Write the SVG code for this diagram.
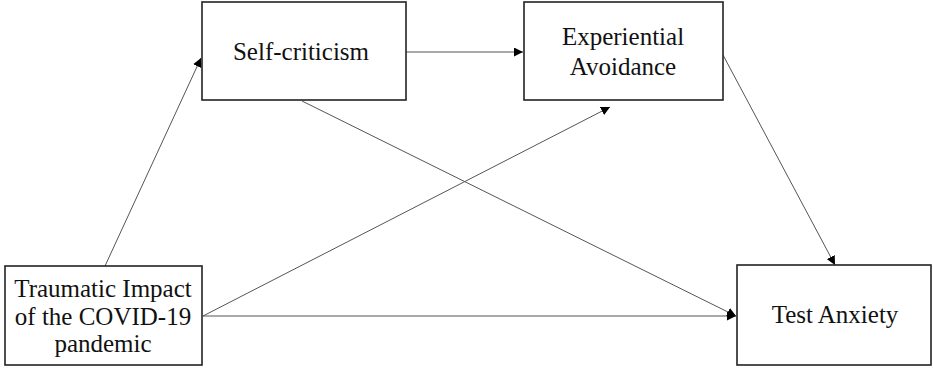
<svg xmlns="http://www.w3.org/2000/svg" width="933" height="368" viewBox="0 0 933 368">
<style>
.box{fill:#fff;stroke:#222;stroke-width:1.6}
.lbl{font-family:"Liberation Serif","Times New Roman",serif;font-size:25px;fill:#111;text-anchor:middle}
.conn{stroke:#555;stroke-width:1;fill:none;marker-end:url(#ah)}
</style>
<defs>
<marker id="ah" viewBox="0 0 10 10" refX="10" refY="5" markerWidth="9" markerHeight="9" markerUnits="userSpaceOnUse" orient="auto">
<path d="M0,0 L10,5 L0,10 z" fill="#000"/>
</marker>
</defs>
<rect width="933" height="368" fill="#fff"/>
<g id="connectors">
<line class="conn" x1="105" y1="266" x2="201" y2="58"/>
<line class="conn" x1="406" y1="52" x2="523" y2="52"/>
<line class="conn" x1="302" y1="101" x2="736" y2="316"/>
<line class="conn" x1="203" y1="316" x2="610" y2="107"/>
<line class="conn" x1="203" y1="316" x2="736" y2="316"/>
<line class="conn" x1="723" y1="55" x2="835" y2="265"/>
</g>
<g id="self-criticism">
<rect class="box" x="202" y="2" width="204" height="98"/>
<text class="lbl" x="301" y="60">Self-criticism</text>
</g>
<g id="experiential-avoidance">
<rect class="box" x="524" y="2" width="199" height="98"/>
<text class="lbl" x="623" y="45">Experiential</text>
<text class="lbl" x="623" y="75">Avoidance</text>
</g>
<g id="traumatic-impact">
<rect class="box" x="5" y="266" width="197" height="99"/>
<text class="lbl" x="103" y="297">Traumatic Impact</text>
<text class="lbl" x="103" y="325">of the COVID-19</text>
<text class="lbl" x="103" y="352">pandemic</text>
</g>
<g id="test-anxiety">
<rect class="box" x="737" y="265" width="194" height="100"/>
<text class="lbl" x="835" y="323">Test Anxiety</text>
</g>
</svg>
